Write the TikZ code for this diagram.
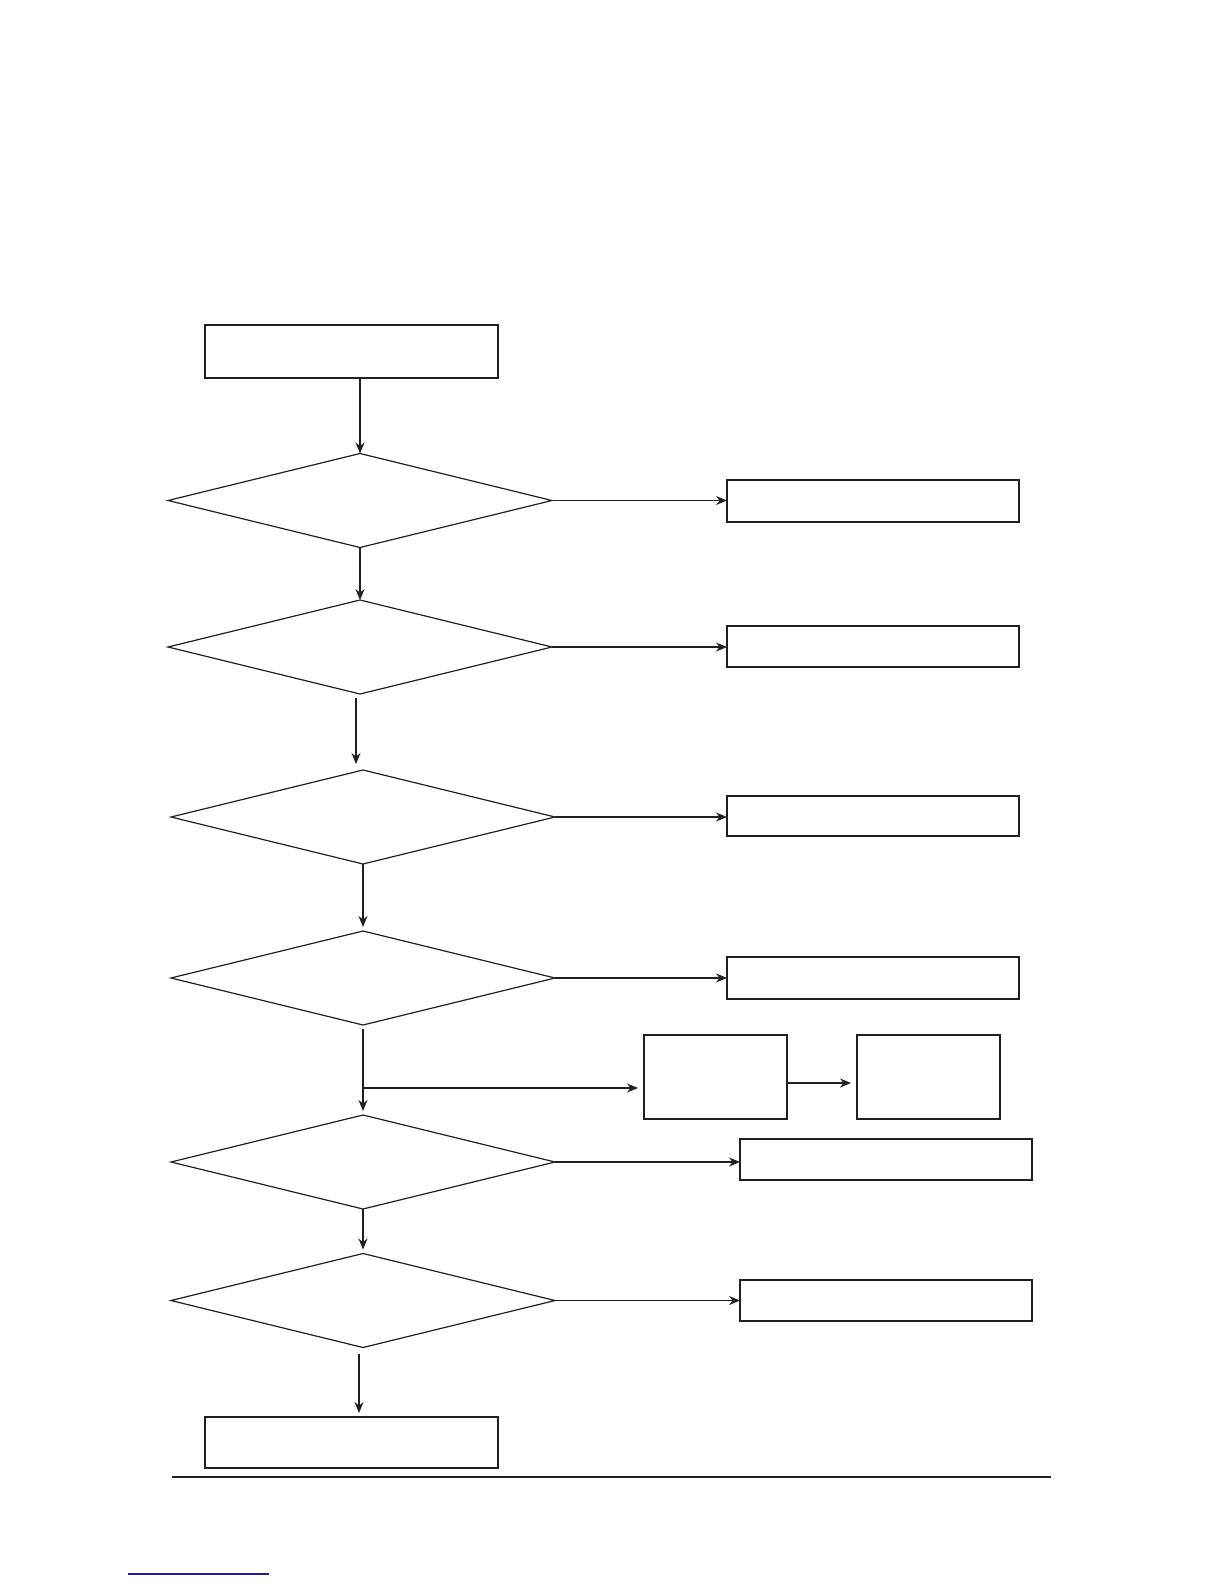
\documentclass[tikz,border=0pt]{standalone}
\usepackage{tikz}
\usetikzlibrary{arrows.meta,shapes.geometric,positioning}
\definecolor{ink}{RGB}{35,31,32}
\definecolor{linkblue}{RGB}{30,30,150}
\tikzset{
	box/.style={draw=ink, line width=0.55pt, rectangle, inner sep=0pt, outer sep=0pt},
	decision/.style={draw=ink, line width=0.6pt, diamond, inner sep=0pt, outer sep=0pt,
		minimum width=192pt, minimum height=47pt},
	flow/.style={draw=ink, line width=0.6pt, -{Stealth[length=5.5pt,width=4.5pt,inset=1.8pt]}}
}

\begin{document}
\begin{tikzpicture}[x=0.5pt,y=-0.5pt]
		\useasboundingbox (0,0) rectangle (1224,1584);
		
		% main column
		\node[box, minimum width=146.5pt, minimum height=26.5pt] (start) at (351.5,351.5) {};
		\node[decision] (d1) at (360,500.5) {};
		\node[decision] (d2) at (360,647) {};
		\node[decision] (d3) at (363,817) {};
		\node[decision] (d4) at (363,978) {};
		\node[decision] (d5) at (363,1162) {};
		\node[decision] (d6) at (363,1300.5) {};
		\node[box, minimum width=146.5pt, minimum height=25.5pt] (stop) at (351.5,1442.5) {};
		
		% right column
		\node[box, minimum width=146pt, minimum height=21pt] (r1) at (873,501) {};
		\node[box, minimum width=146pt, minimum height=20.5pt] (r2) at (873,646.5) {};
		\node[box, minimum width=146pt, minimum height=20pt] (r3) at (873,816) {};
		\node[box, minimum width=146pt, minimum height=21pt] (r4) at (873,978) {};
		\node[box, minimum width=146pt, minimum height=20.5pt] (r5) at (886,1159.5) {};
		\node[box, minimum width=146pt, minimum height=20.5pt] (r6) at (886,1300.5) {};
		
		% side branch
		\node[box, minimum width=71.5pt, minimum height=42pt] (sa) at (715.5,1077) {};
		\node[box, minimum width=71.5pt, minimum height=42pt] (sb) at (928.5,1077) {};
		\coordinate (br) at (362.5,1088);
		
		% down arrows
		\draw[flow] (start.south -| d1.north) -- (d1.north);
		\draw[flow] (d1.south) -- (d2.north);
		\draw[flow, shorten <=2pt, shorten >=3pt] ([xshift=-2pt]d2.south) -- ([xshift=-2pt]d2.south |- d3.north);
		\draw[flow, shorten >=2pt] (d3.south) -- (d4.north);
		\draw[flow, shorten <=2pt, shorten >=2pt] (d4.south) -- (d5.north);
		\draw[flow, shorten >=2pt] (d5.south) -- (d6.north);
		\draw[flow, shorten <=3pt, shorten >=2pt] ([xshift=-2pt]d6.south) -- ([xshift=-2pt]d6.south |- stop.north);
		
		% right arrows
		\draw[flow] (d1.east) -- (d1.east -| r1.west);
		\draw[flow] (d2.east) -- (d2.east -| r2.west);
		\draw[flow] (d3.east) -- (d3.east -| r3.west);
		\draw[flow] (d4.east) -- (d4.east -| r4.west);
		\draw[flow] (d5.east) -- (d5.east -| r5.west);
		\draw[flow] (d6.east) -- (d6.east -| r6.west);
		
		% branch to the two small boxes
		\draw[flow, shorten >=3pt] (br) -- (br -| sa.west);
		\draw[flow, shorten >=3pt] ([yshift=-3pt]sa.east) -- ([yshift=-3pt]sa.east -| sb.west);
		
		% page rule and link
		\draw[ink, line width=1.3pt] (172,1477) -- (1051,1477);
		\draw[linkblue, line width=0.6pt] (128,1574) -- (269,1574);
	\end{tikzpicture}
\end{document}
